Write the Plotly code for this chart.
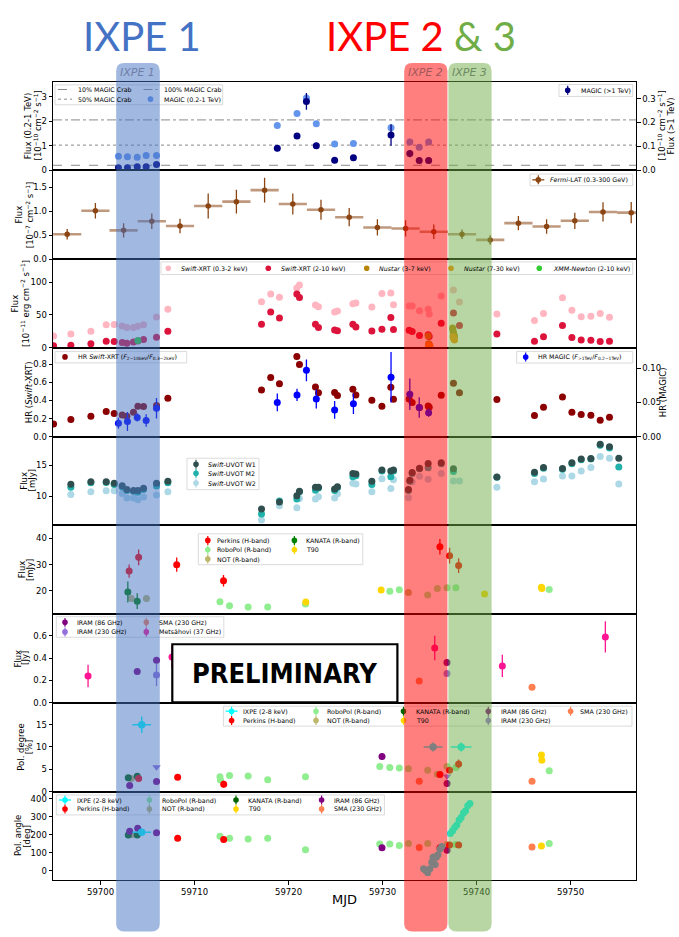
import plotly.graph_objects as go

# ---------------------------------------------------------------- data
mjd_ticks = [59700, 59710, 59720, 59730, 59740, 59750]
ixpe_windows = [(59701.66, 59706.30), (59732.30, 59736.90), (59737.00, 59741.60)]

# Panel 1: MAGIC
magic_mjd = [59701.9, 59702.86, 59703.9, 59704.85, 59705.95, 59718.8, 59720.9, 59721.9,
             59722.95, 59724.9, 59726.9, 59730.9, 59732.9, 59733.9, 59734.9]
magic_lo_flux = [0.57, 0.55, 0.53, 0.60, 0.60, 1.82, 2.31, 2.94, 1.89, 1.07, 1.09, 1.73, 1.15, 0.94, 1.15]
magic_lo_err = [0.05, 0.05, 0.05, 0.05, 0.05, 0.10, 0.10, 0.15, 0.10, 0.06, 0.06, 0.12, 0.10, 0.12, 0.08]
magic_hi_flux = [0.011, 0.011, 0.015, 0.015, 0.024, 0.092, 0.143, 0.288, 0.103, 0.042, 0.052, 0.148, 0.070, 0.041, 0.041]
magic_hi_err = [0.004, 0.004, 0.004, 0.004, 0.005, 0.012, 0.012, 0.035, 0.012, 0.006, 0.007, 0.045, 0.015, 0.005, 0.005]
crab_fraction = [0.1, 0.5, 1.0]
crab_flux_02_1 = 2.05

# Panel 2: Fermi-LAT
fermi_mjd = [59696.45, 59699.45, 59702.45, 59705.45, 59708.45, 59711.45, 59714.45, 59717.45, 59720.45,
             59723.45, 59726.45, 59729.45, 59732.45, 59735.45, 59738.45, 59741.45, 59744.45, 59747.45,
             59750.45, 59753.45, 59756.45]
fermi_flux = [0.52, 1.01, 0.60, 0.79, 0.69, 1.11, 1.20, 1.44, 1.15, 1.03, 0.875, 0.66, 0.64, 0.57, 0.52,
              0.40, 0.75, 0.68, 0.80, 0.985, 0.97]
fermi_err = [0.11, 0.16, 0.15, 0.16, 0.15, 0.26, 0.25, 0.26, 0.22, 0.21, 0.19, 0.17, 0.17, 0.15, 0.10,
             0.10, 0.15, 0.15, 0.17, 0.20, 0.22]
fermi_halfbin = 1.5

# Panel 3: X-ray fluxes
xrt_mjd = [59695.0, 59696.84, 59698.97, 59700.6, 59701.45, 59702.3, 59702.8, 59703.5, 59703.97, 59704.57,
           59705.95, 59707.16, 59717.12, 59718.1, 59719.03, 59720.88, 59721.16, 59722.86, 59723.18, 59724.9,
           59725.2, 59726.84, 59727.16, 59728.86, 59729.93, 59730.88, 59731.16, 59732.83, 59733.15, 59733.93,
           59734.85, 59734.96, 59736.24, 59737.54, 59738.18, 59742.16, 59746.16, 59747.12, 59749.14, 59750.14,
           59751.13, 59752.16, 59753.15, 59754.14]
xrt_soft = [18, 21, 25, 35, 35.5, 33, 30.7, 30.7, 32.8, 35, 47, 58.5, 70, 82, 77, 91, 95.5, 65, 62.5, 54.5,
            56, 67, 68, 62, 82.7, 83.5, 65.6, 63.6, 63.6, 56.5, 58.5, 51.5, 78.8, 88, 69.7, 51.5, 41.4, 52,
            76, 57, 47.4, 48, 52, 46.4]
xrt_hard = [3, 4, 6, 10, 9.5, 8, 7, 8.7, 10.5, 12.6, 16, 25, 36, 54.5, 45.4, 81.8, 76.7, 36, 30.7, 27.2,
            26, 35.8, 31.8, 25.7, 28.2, 46, 27.7, 26.7, 24.7, 18.6, 20, 17, 37.3, 53, 34, 21, 10, 16.7,
            33.8, 15.6, 12, 11.6, 9.5, 10]
nustar_lo_mjd = [59734.85, 59734.9, 59734.95, 59735.0, 59737.45, 59737.5, 59737.55, 59737.6, 59737.65]
nustar_lo_flux = [18, 6, 5, 4, 30, 26, 22, 19, 17]
nustar_hi_mjd = [59734.9, 59734.95, 59735.0, 59735.05, 59737.5, 59737.55, 59737.6, 59737.65]
nustar_hi_flux = [4, 3, 2.5, 2, 17, 15, 13, 12]
xmm_mjd = [59703.97]
xmm_flux = [11]

# Panel 4: hardness ratios
xrt_hr = [0.14, 0.19, 0.225, 0.278, 0.255, 0.24, 0.225, 0.27, 0.337, 0.333, 0.344, 0.425, 0.518, 0.655,
          0.585, 0.889, 0.80, 0.551, 0.485, 0.489, 0.456, 0.525, 0.462, 0.403, 0.337, 0.548, 0.414, 0.418,
          0.378, 0.322, 0.34, 0.326, 0.459, 0.592, 0.485, 0.41, 0.233, 0.326, 0.44, 0.27, 0.244, 0.237,
          0.181, 0.214]
magic_hr = [0.0196, 0.022, 0.028, 0.0235, 0.0416, 0.05, 0.061, 0.097, 0.055, 0.039, 0.048, 0.0868, 0.062,
            0.0426, 0.035]
magic_hr_err = [0.008, 0.014, 0.006, 0.009, 0.015, 0.013, 0.009, 0.016, 0.014, 0.013, 0.015, 0.037, 0.023,
                0.015, 0.006]

# Panel 5: Swift-UVOT
uvot_mjd = [59696.84, 59698.97, 59700.6, 59701.45, 59702.3, 59702.8, 59703.5, 59703.97, 59704.57, 59705.95,
            59707.16, 59717.12, 59719.03, 59720.88, 59721.16, 59722.86, 59723.18, 59724.9, 59725.2, 59726.84,
            59727.16, 59728.86, 59729.93, 59730.88, 59731.16, 59732.75, 59732.9, 59733.15, 59733.93, 59734.85,
            59736.24, 59737.54, 59738.18, 59742.16, 59746.16, 59747.12, 59749.14, 59750.14, 59751.13, 59752.16,
            59753.15, 59754.14, 59755.13]
uvot_w1 = [11.9, 12.33, 12.33, 12.07, 11.69, 11.05, 10.9, 10.9, 11.27, 12.07, 12.39, 7.92, 9.04, 10.05, 10.8,
           11.43, 11.43, 11.16, 11.53, 13.66, 13.56, 12.39, 14.19, 14.03, 14.19, 11.05, 12.55, 13.8, 14.5,
           15.26, 15.37, 14.4, None, 13.08, 13.83, 14.62, 14.46, 15.37, 16.0, 16.05, 18.34, 17.97, 16.1]
uvot_m2 = [11.43, 12.17, 12.2, 11.86, 11.48, 10.9, 10.79, 10.63, 11.05, 11.64, 12.17, 7.13, 9.2, 9.52, 10.69,
           10.95, 11.32, 10.9, 11.38, 13.13, 13.3, 11.86, 14.03, 13.13, 14.03, 10.9, 12.4, 13.65, 14.4, 14.57,
           15.2, 13.98, None, 13.03, 13.66, 14.5, 14.35, 15.2, 15.85, 16.0, 18.2, 17.76, 14.7]
uvot_w2 = [10.26, 10.69, 10.85, 10.85, 10.42, 9.68, 9.68, 9.41, 9.84, 10.2, 10.69, 6.17, 8.45, 8.13, 9.63,
           9.52, 9.89, 9.68, 10.37, 12.07, 11.96, 10.69, 12.81, 11.21, 12.65, 9.73, None, 12.3, 13.2, 12.7,
           13.66, 12.44, 12.44, 11.43, 12.33, 12.76, 13.24, 13.24, 14.03, 14.62, 16.4, 16.1, 11.96]
uvot_err = 0.2

# Panel 6: optical flux
perkins_mjd = [59703.04, 59704.05, 59708.1, 59713.08, 59736.1, 59737.13, 59738.09]
perkins_flux = [27.5, 32.75, 29.96, 23.85, 36.8, 33.4, 29.6]
perkins_flux_err = [2.5, 3.0, 2.7, 2.2, 3.0, 3.0, 2.8]
robopol_mjd = [59712.7, 59713.72, 59715.7, 59717.78, 59721.8, 59730.77, 59731.78, 59734.8, 59735.83,
               59736.85, 59737.8, 59747.73]
robopol_flux = [15.8, 14.3, 13.8, 13.8, 14.9, 19.8, 20.4, 18.4, 20.9, 21.15, 21.15, 20.5]
not_mjd = [59703.27, 59704.88, 59732.75]
not_flux = [17.0, 17.0, 19.3]
kanata_mjd = [59702.9, 59703.9]
kanata_flux = [19.5, 16.0]
kanata_flux_err = [4.0, 3.0]
t90_mjd = [59721.83, 59729.85, 59740.85, 59746.9, 59746.95]
t90_flux = [15.7, 20.3, 18.8, 21.3, 20.9]

# Panel 7: radio flux
mets_mjd = [59698.67, 59707.6, 59735.55, 59742.74, 59753.7]
mets_flux = [0.24, 0.41, 0.49, 0.33, 0.59]
mets_err = [0.10, 0.10, 0.11, 0.10, 0.14]
sma_mjd = [59733.9, 59745.9]
sma_flux = [0.196, 0.14]
iram86_mjd = [59703.9, 59705.95, 59736.85]
iram86_flux = [0.28, 0.38, 0.36]
iram86_err = [0.015, 0.02, 0.02]
iram230_mjd = [59705.95, 59736.85]
iram230_flux = [0.25, 0.262]
iram230_err = [0.10, 0.015]

# Panel 8: polarization degree
ixpe_mjd = [59704.38, 59735.37, 59738.36]
ixpe_dt = [1.0, 1.0, 1.1]
ixpe_pd = [15.0, 10.0, 10.0]
ixpe_pd_err = [1.85, 1.0, 1.0]
perkins_pd_mjd = [59704.05, 59708.2, 59713.1, 59736.1, 59737.13, 59738.09]
perkins_pd = [2.9, 3.2, 1.64, 3.8, 4.75, 6.2]
perkins_pd_err = [0.5, 0.5, 0.8, 0.4, 0.6, 1.0]
robopol_pd_mjd = [59712.7, 59712.75, 59713.72, 59715.7, 59717.78, 59721.8, 59729.7, 59730.77, 59731.78,
                  59732.75, 59734.8, 59735.83, 59736.85, 59737.8, 59747.73]
robopol_pd = [3.3, 2.6, 3.6, 3.5, 2.67, 3.3, 5.64, 5.4, 5.3, 5.1, 4.75, 3.9, 5.6, 5.4, 4.67]
not_pd_mjd = [59703.27]
not_pd = [2.9]
kanata_pd_mjd = [59702.95, 59703.9]
kanata_pd = [3.1, 3.4]
kanata_pd_err = [0.3, 0.4]
t90_pd_mjd = [59746.9, 59746.95]
t90_pd = [8.2, 7.04]
sma_pd_mjd = [59733.9, 59745.9]
sma_pd = [2.3, 2.3]
iram86_pd_mjd = [59703.1, 59705.95, 59729.94, 59736.86]
iram86_pd = [1.34, 2.23, 7.85, 1.78]
iram86_pd_err = [0.5, 0.4, 0.8, 0.6]
iram230_pd_ul_mjd = [59705.95, 59736.86]
iram230_pd_ul = [5.5, 3.4]

# Panel 9: polarization angle
ixpe1_pa = [212.7]
ixpe_rot_mjd = [59734.36, 59734.58, 59734.8, 59735.03, 59735.23, 59735.37, 59735.5, 59735.6, 59735.73,
                59735.9, 59736.1, 59736.3, 59737.21, 59737.45, 59737.67, 59737.9, 59738.14, 59738.36,
                59738.6, 59738.83, 59739.06, 59739.29]
ixpe_rot_pa = [11, 1.6, -11, 11, 47, 75, 75, 35, 75, 88, 121, 134, 207, 222, 240, 253, 281, 295, 320,
               332, 360, 372]
ixpe_rot_err = [15, 15, 15, 15, 20, 20, 20, 20, 20, 15, 15, 15, 12, 12, 12, 12, 12, 12, 12, 12, 12, 12]
perkins_pa_mjd = [59708.2, 59713.1, 59736.1, 59737.13, 59738.09]
perkins_pa = [179.6, 172.5, 126.7, 143, 143]
perkins_pa_err = [8, 10, 8, 5, 5]
robopol_pa_mjd = [59712.7, 59713.72, 59715.7, 59717.78, 59721.8, 59729.7, 59730.77, 59731.78, 59732.75,
                  59734.8, 59736.85, 59737.8, 59747.73]
robopol_pa = [190.8, 179.6, 176, 179.6, 115.7, 148.8, 148.8, 139.4, 150.6, 150.6, 145, 145, 150.6]
not_pa_mjd = [59703.27]
not_pa = [200]
kanata_pa_mjd = [59702.95, 59703.9]
kanata_pa = [198.3, 198.3]
t90_pa_mjd = [59746.9]
t90_pa = [137.7]
iram86_pa_mjd = [59703.1, 59703.95, 59705.95, 59729.94, 59736.86]
iram86_pa = [218.3, 234.8, 211, 126.7, 113.6]
sma_pa_mjd = [59733.9, 59745.9]
sma_pa = [128.4, 132]

# ---------------------------------------------------------------- colours
C_MAGIC_LO = '#6495ED'
C_MAGIC_HI = '#000080'
C_FERMI = '#8B4513'
C_SOFT = '#FFB6C1'
C_HARD = '#DC143C'
C_NU_LO = '#B8860B'
C_NU_HI = '#FF8C00'
C_XMM = '#32CD32'
C_HRX = '#8B0000'
C_HRM = '#0000FF'
C_W1, C_M2, C_W2 = '#2F4F4F', '#20B2AA', '#ADD8E6'
C_PERK = '#FF0000'
C_ROBO = '#90EE90'
C_NOT = '#BDB76B'
C_KAN = '#008000'
C_KAN2 = '#006400'
C_T90 = '#FFD700'
C_I86 = '#800080'
C_I230 = '#9370DB'
C_SMA = '#FF7F50'
C_METS = '#FF1493'
C_IXPE = '#00FFFF'
BAND_COLORS = ['#4472C4', '#FF0000', '#70AD47']

# ---------------------------------------------------------------- geometry
W, H = 679, 937
L_PX, R_PX = 53, 636
TOP_PX, BOT_PX = 82, 885
NPAN = 9
MJD_RANGE = [59694.94, 59756.96]
FONT = "DejaVu Sans"
edges = [TOP_PX + i * (BOT_PX - TOP_PX) / NPAN for i in range(NPAN + 1)]
MS = 7


def xp(px):
    return px / W


def yp(py):
    return 1 - py / H


def ax(i):
    return ('x' if i == 1 else f'x{i}', 'y' if i == 1 else f'y{i}')


fig = go.Figure()


def pts(i, x, y, color, err=None, xerr=None, size=MS, symbol='circle', yaxis=None, ethick=1.3,
        xthick=None, xcolor=None):
    xa, ya = ax(i)
    if yaxis:
        ya = yaxis
    kw = {}
    if err is not None:
        if isinstance(err, (int, float)):
            kw['error_y'] = dict(type='constant', value=err, color=color, thickness=ethick, width=0)
        else:
            kw['error_y'] = dict(type='data', array=err, color=color, thickness=ethick, width=0)
    if xerr is not None:
        xc = xcolor or color
        xt = xthick or ethick
        if isinstance(xerr, (int, float)):
            kw['error_x'] = dict(type='constant', value=xerr, color=xc, thickness=xt, width=0)
        else:
            kw['error_x'] = dict(type='data', array=xerr, color=xc, thickness=xt, width=0)
    fig.add_trace(go.Scatter(x=x, y=y, mode='markers', xaxis=xa, yaxis=ya, showlegend=False,
                             hoverinfo='skip',
                             marker=dict(color=color, size=size, symbol=symbol, line=dict(width=0)), **kw))


# Panel 1
pts(1, magic_mjd, magic_lo_flux, C_MAGIC_LO, err=magic_lo_err)
pts(1, magic_mjd, magic_hi_flux, C_MAGIC_HI, err=magic_hi_err, yaxis='y10')
# Panel 2
pts(2, fermi_mjd, fermi_flux, C_FERMI, err=fermi_err, xerr=fermi_halfbin, size=5.5, ethick=1.3,
    xthick=2.6, xcolor='rgba(139,69,19,0.55)')
# Panel 3
pts(3, xrt_mjd, xrt_soft, C_SOFT)
pts(3, xrt_mjd, xrt_hard, C_HARD)
pts(3, nustar_lo_mjd, nustar_lo_flux, C_NU_LO)
pts(3, nustar_hi_mjd, nustar_hi_flux, C_NU_HI)
pts(3, xmm_mjd, xmm_flux, C_XMM)
# Panel 4
pts(4, xrt_mjd, xrt_hr, C_HRX)
pts(4, magic_mjd, magic_hr, C_HRM, err=magic_hr_err, yaxis='y11')
# Panel 5
pts(5, uvot_mjd, uvot_w2, C_W2, err=uvot_err)
pts(5, uvot_mjd, uvot_m2, C_M2, err=uvot_err)
pts(5, uvot_mjd, uvot_w1, C_W1, err=uvot_err)
# Panel 6
pts(6, robopol_mjd, robopol_flux, C_ROBO)
pts(6, t90_mjd, t90_flux, C_T90)
pts(6, not_mjd, not_flux, C_NOT)
pts(6, kanata_mjd, kanata_flux, C_KAN, err=kanata_flux_err)
pts(6, perkins_mjd, perkins_flux, C_PERK, err=perkins_flux_err)
# Panel 7
pts(7, mets_mjd, mets_flux, C_METS, err=mets_err)
pts(7, sma_mjd, sma_flux, C_SMA)
pts(7, iram230_mjd, iram230_flux, C_I230, err=iram230_err)
pts(7, iram86_mjd, iram86_flux, C_I86, err=iram86_err)
# Panel 8
pts(8, robopol_pd_mjd, robopol_pd, C_ROBO)
pts(8, t90_pd_mjd, t90_pd, C_T90)
pts(8, sma_pd_mjd, sma_pd, C_SMA)
pts(8, not_pd_mjd, not_pd, C_NOT)
pts(8, kanata_pd_mjd, kanata_pd, C_KAN2, err=kanata_pd_err)
pts(8, perkins_pd_mjd, perkins_pd, C_PERK, err=perkins_pd_err)
pts(8, iram86_pd_mjd, iram86_pd, C_I86, err=iram86_pd_err)
pts(8, iram230_pd_ul_mjd, iram230_pd_ul, C_I230, symbol='triangle-down', size=7.5, err=0.4)
pts(8, ixpe_mjd, ixpe_pd, C_IXPE, err=ixpe_pd_err, xerr=ixpe_dt, size=7.5, ethick=1.5)
# Panel 9
pts(9, robopol_pa_mjd, robopol_pa, C_ROBO)
pts(9, t90_pa_mjd, t90_pa, C_T90)
pts(9, sma_pa_mjd, sma_pa, C_SMA)
pts(9, not_pa_mjd, not_pa, C_NOT)
pts(9, kanata_pa_mjd, kanata_pa, C_KAN2)
pts(9, iram86_pa_mjd, iram86_pa, C_I86)
pts(9, perkins_pa_mjd, perkins_pa, C_PERK, err=perkins_pa_err)
pts(9, ixpe_rot_mjd, ixpe_rot_pa, C_IXPE, err=ixpe_rot_err)
pts(9, ixpe_mjd[:1], ixpe1_pa, C_IXPE, err=[6], xerr=ixpe_dt[:1], size=7.5, ethick=1.5)

# ---------------------------------------------------------------- axes
yranges = [[0, 3.61], [0, 1.855], [0, 135], [0, 0.985], [5.3, 19.6], [11.1, 45], [0, 0.795], [0, 19.9],
           [-53, 439]]
yticks = [[0, 1, 2, 3], [0, 0.5, 1.0, 1.5], [0, 50, 100], [0, 0.2, 0.4, 0.6, 0.8], [10, 15], [20, 30, 40],
          [0, 0.2, 0.4, 0.6], [0, 5, 10, 15], [0, 100, 200, 300, 400]]
yfmt = ['d', '.1f', 'd', '.1f', 'd', 'd', '.1f', 'd', 'd']
TICKFONT = dict(family=FONT, size=8.5, color='black')

layout = dict(width=W, height=H, margin=dict(l=0, r=0, t=0, b=0), paper_bgcolor='white',
              plot_bgcolor='white', showlegend=False, font=dict(family=FONT, size=8.5, color='black'))
for i in range(1, NPAN + 1):
    xs = 'xaxis' if i == 1 else f'xaxis{i}'
    ys = 'yaxis' if i == 1 else f'yaxis{i}'
    layout[xs] = dict(domain=[xp(L_PX), xp(R_PX)], range=MJD_RANGE, anchor=ax(i)[1], showline=True,
                      mirror=True, linecolor='black', linewidth=1, showgrid=False, zeroline=False,
                      tickvals=mjd_ticks, tickformat='d', showticklabels=(i == NPAN),
                      ticks='outside' if i == NPAN else '', ticklen=3.5, tickwidth=0.8,
                      tickcolor='black', tickfont=TICKFONT)
    layout[ys] = dict(domain=[yp(edges[i]), yp(edges[i - 1])], range=yranges[i - 1], anchor=ax(i)[0],
                      tickvals=yticks[i - 1], tickformat=yfmt[i - 1], showline=True, mirror=True,
                      linecolor='black', linewidth=1, showgrid=False, zeroline=False, ticks='outside',
                      ticklen=3.5, tickwidth=0.8, tickcolor='black', tickfont=TICKFONT)
layout['yaxis10'] = dict(overlaying='y', side='right', anchor='x', range=[0, 0.371],
                         tickvals=[0, 0.1, 0.2, 0.3], tickformat='.1f', showgrid=False, zeroline=False,
                         showline=False, ticks='outside', ticklen=3.5, tickwidth=0.8, tickcolor='black',
                         tickfont=TICKFONT)
layout['yaxis11'] = dict(overlaying='y4', side='right', anchor='x4', range=[0, 0.130],
                         tickvals=[0, 0.05, 0.10], tickformat='.2f', showgrid=False, zeroline=False,
                         showline=False, ticks='outside', ticklen=3.5, tickwidth=0.8, tickcolor='black',
                         tickfont=TICKFONT)
fig.update_layout(**layout)

shapes = []
annos = []

# Crab reference lines (panel 1)
for frac, dash in zip(crab_fraction, ['dash', 'dot', 'dashdot']):
    shapes.append(dict(type='line', xref='x domain', yref='y', x0=0, x1=1, y0=frac * crab_flux_02_1,
                       y1=frac * crab_flux_02_1, line=dict(color='#8a8a8a', width=1, dash=dash),
                       layer='below'))


# ---------------------------------------------------------------- axis titles (one annotation per line)
def ytitle(panel, lines):
    cy = (edges[panel - 1] + edges[panel]) / 2
    for px, text in lines:
        annos.append(dict(x=xp(px), y=yp(cy), xref='paper', yref='paper', text=text, showarrow=False,
                          textangle=-90, xanchor='center', yanchor='middle',
                          font=dict(family=FONT, size=8.5, color='black')))


U = 'cm<sup>−2</sup> s<sup>−1</sup>'
ytitle(1, [(28.3, 'Flux (0.2-1 TeV)'), (37.5, f'[10<sup>−10</sup> {U}]')])
ytitle(2, [(18.8, 'Flux'), (29.5, f'[10<sup>−7</sup> {U}]')])
ytitle(3, [(15, 'Flux'), (25.5, f'[10<sup>−11</sup> erg {U}]')])
ytitle(4, [(29, 'HR (<i>Swift</i>-XRT)')])
ytitle(5, [(23.8, 'Flux'), (31.5, '[mJy]')])
ytitle(6, [(21.6, 'Flux'), (29.4, '[mJy]')])
ytitle(7, [(18.2, 'Flux'), (25.5, '[Jy]')])
ytitle(8, [(21.6, 'Pol. degree'), (29.2, '[%]')])
ytitle(9, [(18.2, 'Pol. angle'), (26.8, '[deg]')])
ytitle(1, [(661.5, f'[10<sup>−10</sup> {U}]'), (670.5, 'Flux (>1 TeV)')])
ytitle(4, [(663, 'HR (MAGIC)')])
annos.append(dict(x=xp((L_PX + R_PX) / 2), y=yp(904), xref='paper', yref='paper', text='MJD',
                  showarrow=False, xanchor='center', yanchor='middle',
                  font=dict(family=FONT, size=13, color='black')))

# ---------------------------------------------------------------- legends (drawn by hand, matplotlib-like)
LEGFONT = dict(family=FONT, size=6.3, color='black')


def leg_box(x0, y0, x1, y1):
    shapes.append(dict(type='rect', xref='paper', yref='paper', x0=xp(x0), x1=xp(x1), y0=yp(y1),
                       y1=yp(y0), fillcolor='rgba(255,255,255,0.85)',
                       line=dict(color='#d2d2d2', width=0.8), layer='above'))


def leg_marker(px, py, color, bar=False, hbar=False, r=2.8):
    if hbar:
        shapes.append(dict(type='line', xref='paper', yref='paper', x0=xp(px - 6), x1=xp(px + 6),
                           y0=yp(py), y1=yp(py), line=dict(color=color, width=1.3), layer='above'))
    if bar:
        shapes.append(dict(type='line', xref='paper', yref='paper', x0=xp(px), x1=xp(px),
                           y0=yp(py - 4.5), y1=yp(py + 4.5), line=dict(color=color, width=1.2),
                           layer='above'))
    shapes.append(dict(type='circle', xref='paper', yref='paper', xsizemode='pixel', ysizemode='pixel',
                       xanchor=xp(px), yanchor=yp(py), x0=-r, x1=r, y0=-r, y1=r, fillcolor=color,
                       line=dict(width=0), layer='above'))


def leg_line(px0, px1, py, dash):
    shapes.append(dict(type='line', xref='paper', yref='paper', x0=xp(px0), x1=xp(px1), y0=yp(py),
                       y1=yp(py), line=dict(color='#8a8a8a', width=1, dash=dash), layer='above'))


def leg_text(px, py, text):
    annos.append(dict(x=xp(px), y=yp(py), xref='paper', yref='paper', text=text, showarrow=False,
                      xanchor='left', yanchor='middle', font=LEGFONT, borderpad=0))


def legend(box, entries):
    leg_box(*box)
    for gx, tx, gy, color, label, kind in entries:
        if kind.startswith('line'):
            leg_line(gx - 7, gx + 7, gy, kind.split(':')[1])
        else:
            leg_marker(gx, gy, color, bar=('bar' in kind), hbar=('cross' in kind))
        leg_text(tx, gy, label)


legend((55, 85.3, 222.7, 105.3), [
    (65, 76.7, 90, None, '10% MAGIC Crab', 'line:dash'),
    (65, 76.7, 99.7, None, '50% MAGIC Crab', 'line:dot'),
    (150.5, 162.7, 90, None, '100% MAGIC Crab', 'line:dashdot'),
    (150.5, 162.7, 99.7, C_MAGIC_LO, 'MAGIC (0.2-1 TeV)', 'dot'),
])
legend((559, 85, 632.7, 97), [(567.7, 580, 90.8, C_MAGIC_HI, 'MAGIC (>1 TeV)', 'bar')])
legend((530, 175, 632.7, 186.7), [(538.3, 549.3, 180.8, C_FERMI, '<i>Fermi</i>-LAT (0.3-300 GeV)', 'bar cross')])
legend((161, 263.3, 632.7, 276), [
    (168.3, 180, 269.7, C_SOFT, '<i>Swift</i>-XRT (0.3-2 keV)', 'dot'),
    (268.3, 280, 269.7, C_HARD, '<i>Swift</i>-XRT (2-10 keV)', 'dot'),
    (366.7, 378.3, 269.7, C_NU_LO, '<i>Nustar</i> (3-7 keV)', 'dot'),
    (451, 463.3, 269.7, C_NU_HI, '<i>Nustar</i> (7-30 keV)', 'dot'),
    (539.3, 551.7, 269.7, C_XMM, '<i>XMM-Newton</i> (2-10 keV)', 'dot'),
])
legend((55, 353.3, 186.7, 364.8), [
    (65, 76.7, 358.8, C_HRX,
     'HR <i>Swift</i>-XRT (<i>F</i><sub>2−10keV</sub>/<i>F</i><sub>0.3−2keV</sub>)', 'dot')])
legend((516.7, 353.3, 632.7, 365), [
    (525.7, 536.7, 359, C_HRM, 'HR MAGIC (<i>F</i><sub>>1TeV</sub>/<i>F</i><sub>0.2−1TeV</sub>)', 'bar')])
legend((187, 460.7, 259, 492.3), [
    (196, 207, 466.7, C_W1, '<i>Swift</i>-UVOT W1', 'bar'),
    (196, 207, 475.9, C_M2, '<i>Swift</i>-UVOT M2', 'bar'),
    (196, 207, 485.6, C_W2, '<i>Swift</i>-UVOT W2', 'bar'),
])
legend((198.3, 536.7, 362.8, 567.7), [
    (207.8, 216.5, 543.3, C_PERK, 'Perkins (H-band)', 'bar'),
    (207.8, 216.5, 552.7, C_ROBO, 'RoboPol (R-band)', 'bar'),
    (207.8, 216.5, 562, C_NOT, 'NOT (R-band)', 'bar'),
    (294.4, 305.2, 543.3, C_KAN, 'KANATA (R-band)', 'bar'),
    (294.4, 305.2, 552.7, C_T90, 'T90', 'bar'),
])
legend((56.3, 620, 223.8, 640.7), [
    (65, 75.8, 625.7, C_I86, 'IRAM (86 GHz)', 'bar'),
    (65, 75.8, 635.3, C_I230, 'IRAM (230 GHz)', 'bar'),
    (146.3, 158, 625.7, C_SMA, 'SMA (230 GHz)', 'bar'),
    (146.3, 158, 635.3, C_METS, 'Metsähovi (37 GHz)', 'bar'),
])
legend((223.4, 710, 632, 730), [
    (231.6, 242.4, 715, C_IXPE, 'IXPE (2-8 keV)', 'bar cross'),
    (231.6, 242.4, 724.3, C_PERK, 'Perkins (H-band)', 'bar'),
    (316, 325.5, 715, C_ROBO, 'RoboPol (R-band)', 'bar'),
    (316, 325.5, 724.3, C_NOT, 'NOT (R-band)', 'bar'),
    (403.5, 414.7, 715, C_KAN2, 'KANATA (R-band)', 'bar'),
    (403.5, 414.7, 724.3, C_T90, 'T90', 'bar'),
    (488.3, 500, 715, C_I86, 'IRAM (86 GHz)', 'bar'),
    (488.3, 500, 724.3, C_I230, 'IRAM (230 GHz)', 'bar'),
    (570.6, 579.2, 715, C_SMA, 'SMA (230 GHz)', 'bar'),
])
legend((56.3, 799.3, 384.4, 819.3), [
    (65, 75.8, 804.3, C_IXPE, 'IXPE (2-8 keV)', 'bar cross'),
    (65, 75.8, 813.3, C_PERK, 'Perkins (H-band)', 'bar'),
    (149.4, 161, 804.3, C_ROBO, 'RoboPol (R-band)', 'bar'),
    (149.4, 161, 813.3, C_NOT, 'NOT (R-band)', 'bar'),
    (236, 246.8, 804.3, C_KAN2, 'KANATA (R-band)', 'bar'),
    (236, 246.8, 813.3, C_T90, 'T90', 'bar'),
    (321.6, 332.5, 804.3, C_I86, 'IRAM (86 GHz)', 'bar'),
    (321.6, 332.5, 813.3, C_SMA, 'SMA (230 GHz)', 'bar'),
])

# PRELIMINARY stamp
shapes.append(dict(type='rect', xref='paper', yref='paper', x0=xp(172.3), x1=xp(397.4), y0=yp(706),
                   y1=yp(647.7), fillcolor='white', line=dict(color='black', width=2.2), layer='above'))
annos.append(dict(x=xp(284.8), y=yp(677.5), xref='paper', yref='paper', text='<b>PRELIMINARY</b>',
                  showarrow=False, xanchor='center', yanchor='middle',
                  font=dict(family='Liberation Sans Narrow, DejaVu Sans Condensed, sans-serif', size=27,
                            color='black')))

# ---------------------------------------------------------------- IXPE windows (rounded, on top)
rx = 8 / 9.4
ry = 8 / H
yb, yt = yp(936.5), yp(63.3)
for (a, b), col in zip(ixpe_windows, BAND_COLORS):
    path = (f"M{a + rx},{yt} L{b - rx},{yt} Q{b},{yt} {b},{yt - ry} L{b},{yb + ry} "
            f"Q{b},{yb} {b - rx},{yb} L{a + rx},{yb} Q{a},{yb} {a},{yb + ry} L{a},{yt - ry} "
            f"Q{a},{yt} {a + rx},{yt} Z")
    shapes.append(dict(type='path', xref='x9', yref='paper', path=path, fillcolor=col, opacity=0.5,
                       line=dict(width=0), layer='above'))

# band labels
for (a, b), txt, col in zip(ixpe_windows, ['IXPE 1', 'IXPE 2', 'IXPE 3'], ['#6F7FA8', '#A25858', '#6E8A62']):
    annos.append(dict(x=(a + b) / 2, y=yp(72.5), xref='x9', yref='paper', text=f'<i>{txt}</i>',
                      showarrow=False, xanchor='center', yanchor='middle',
                      font=dict(family=FONT, size=11, color=col)))

# big headings
annos.append(dict(x=xp(142), y=yp(36), xref='paper', yref='paper', text='IXPE 1', showarrow=False,
                  xanchor='center', yanchor='middle', font=dict(family='Lato', size=40, color='#4472C4')))
annos.append(dict(x=xp(421), y=yp(36), xref='paper', yref='paper',
                  text="<span style='color:#FF0000'>IXPE 2</span> <span style='color:#70AD47'>&amp; 3</span>",
                  showarrow=False, xanchor='center', yanchor='middle',
                  font=dict(family='Lato', size=40, color='#FF0000')))

fig.update_layout(shapes=shapes, annotations=annos)
fig.write_html("out.html", config={'displayModeBar': False},
               post_script="document.body.style.margin='0px';document.body.style.overflow='hidden';")
